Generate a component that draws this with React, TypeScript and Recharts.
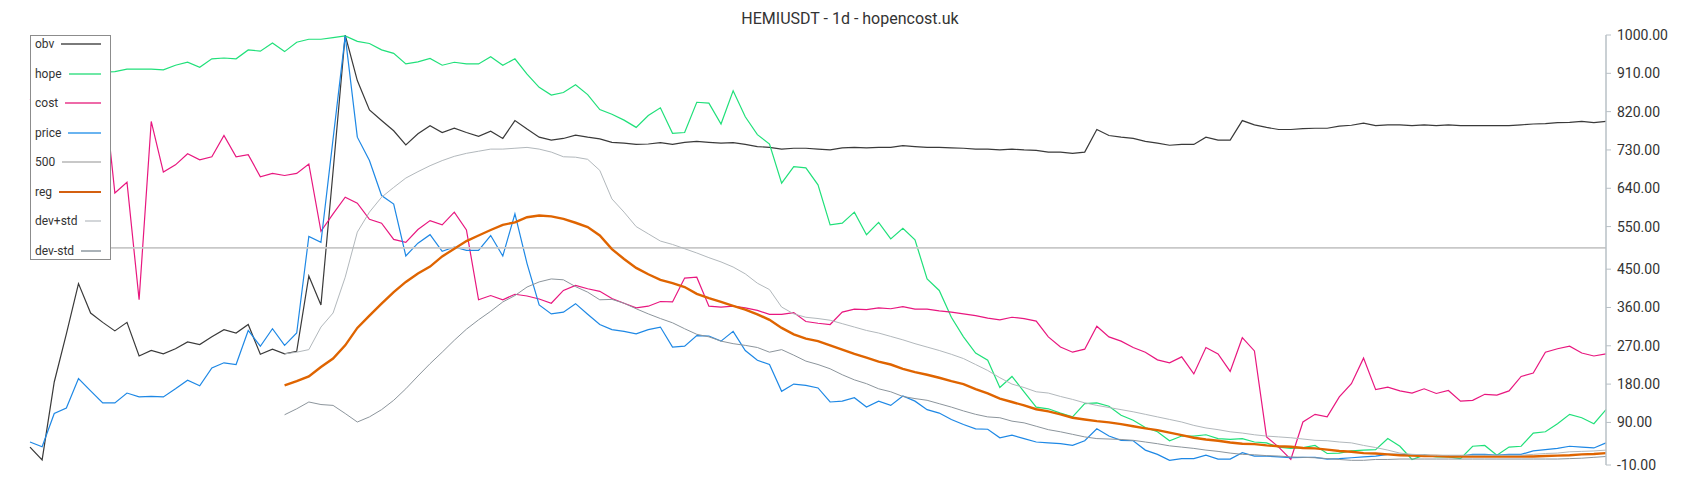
import React from 'react';
import { LineChart, Line, XAxis, YAxis } from 'recharts';

const title = 'HEMIUSDT - 1d - hopencost.uk';

const obv = [
  32, 2, 185, 298, 416, 347, 325, 305, 325, 246, 259, 251, 263, 279, 273, 291,
  308, 300, 320, 250, 262, 251, 257, 434, 366, 680, 1000, 893, 824, 799, 775, 742,
  768, 787, 771, 781, 771, 762, 774, 757, 799, 779, 760, 753, 757, 765, 760, 756,
  748, 746, 743, 744, 747, 743, 748, 750, 748, 746, 747, 743, 738, 736, 732, 734,
  734, 732, 730, 735, 736, 735, 736, 736, 740, 738, 736, 736, 735, 734, 732, 732,
  730, 732, 730, 729, 725, 725, 722, 725, 778, 764, 760, 757, 750, 746, 741, 743,
  743, 760, 753, 753, 799, 789, 783, 778, 778, 780, 781, 781, 786, 788, 793, 787,
  789, 789, 787, 789, 787, 789, 787, 787, 787, 787, 787, 789, 791, 792, 794, 795,
  797, 794, 797,
];

const hope = [
  905, 908, 910, 908, 912, 910, 913, 914, 920, 920, 920, 918, 929, 936, 924, 944,
  946, 944, 965, 962, 981, 961, 983, 990, 990, 994, 998, 985, 980, 965, 957, 932,
  937, 945, 929, 936, 932, 932, 949, 929, 944, 908, 877, 859, 865, 883, 860, 825,
  814, 800, 783, 811, 829, 769, 771, 842, 840, 791, 869, 808, 766, 744, 652, 691,
  688, 648, 554, 558, 584, 531, 560, 521, 546, 519, 427, 400, 337, 291, 253, 236,
  172, 198, 162, 126, 122, 112, 103, 134, 136, 128, 107, 95, 78, 68, 47, 58,
  58, 61, 52, 50, 52, 44, 42, 32, 29, 31, 36, 17, 18, 23, 25, 26,
  52, 34, 3, 13, 9, 9, 5, 34, 36, 13, 32, 34, 65, 68, 87, 109,
  101, 87, 120,
];

const cost = [
  850, 830, 880, 870, 860, 890, 900, 629, 654, 378, 797, 678, 695, 721, 707, 714,
  764, 714, 719, 667, 675, 670, 675, 697, 539, 580, 619, 605, 567, 558, 520, 513,
  543, 564, 554, 584, 542, 378, 388, 378, 391, 387, 380, 370, 400, 412, 404, 398,
  381, 370, 359, 363, 374, 373, 429, 431, 363, 361, 363, 359, 353, 344, 344, 348,
  327, 323, 320, 349, 356, 355, 359, 357, 362, 356, 356, 352, 349, 345, 341, 335,
  331, 337, 334, 328, 291, 267, 255, 262, 316, 291, 281, 266, 255, 237, 230, 244,
  204, 266, 251, 210, 289, 258, 56, 32, 3, 91, 109, 103, 150, 181, 241, 167,
  173, 164, 159, 169, 158, 165, 140, 142, 156, 154, 164, 198, 206, 255, 263, 269,
  253, 246, 251,
];

const price = [
  44, 33, 111, 124, 193, 164, 136, 136, 159, 150, 151, 150, 169, 189, 176, 218,
  230, 226, 306, 269, 310, 271, 300, 527, 513, 756, 998, 760, 705, 623, 603, 481,
  511, 531, 492, 502, 494, 494, 529, 481, 580, 463, 366, 345, 349, 369, 344, 320,
  308, 304, 298, 308, 314, 267, 269, 294, 293, 281, 304, 259, 236, 226, 163, 180,
  177, 171, 138, 140, 148, 126, 140, 130, 152, 140, 120, 112, 97, 85, 75, 74,
  54, 60, 52, 44, 42, 40, 36, 47, 75, 58, 48, 47, 25, 15, 1, 5,
  5, 13, 4, 4, 19, 11, 11, 9, 7, 8, 8, 4, 5, 7, 9, 11,
  15, 15, 13, 13, 11, 11, 11, 15, 15, 13, 15, 15, 23, 26, 29, 34,
  32, 30, 42,
];

const level500 = 500;

const reg = [
  null, null, null, null, null, null, null, null, null, null, null, null, null, null, null, null,
  null, null, null, null, null, 177, 187, 198, 220, 240, 271, 312, 341, 369, 396, 420,
  440, 456, 480, 498, 516, 529, 542, 554, 560, 572, 576, 574, 568, 559, 549, 529,
  497, 474, 453, 438, 425, 417, 408, 392, 382, 373, 364, 355, 344, 331, 312, 297,
  287, 281, 271, 261, 251, 242, 233, 226, 216, 208, 202, 195, 187, 180, 168, 158,
  146, 138, 130, 121, 116, 109, 101, 97, 93, 90, 86, 81, 76, 72, 66, 60,
  54, 50, 47, 43, 40, 39, 36, 34, 33, 30, 29, 26, 23, 21, 18, 17,
  15, 13, 12, 11, 11, 10, 10, 10, 10, 10, 10, 10, 10, 11, 12, 13,
  15, 16, 18,
];

const devPlus = [
  null, null, null, null, null, null, null, null, null, null, null, null, null, null, null, null,
  null, null, null, null, null, 251, 255, 261, 314, 347, 431, 537, 584, 619, 642, 664,
  679, 693, 705, 715, 722, 727, 732, 732, 734, 736, 732, 725, 714, 713, 708, 682,
  615, 584, 550, 533, 516, 508, 498, 488, 477, 467, 455, 439, 417, 402, 361, 345,
  337, 334, 330, 322, 314, 306, 300, 292, 284, 275, 267, 259, 250, 240, 226, 212,
  195, 180, 172, 162, 159, 151, 144, 136, 130, 125, 120, 115, 109, 103, 97, 91,
  83, 77, 73, 68, 65, 61, 58, 56, 54, 51, 48, 47, 44, 42, 36, 31,
  25, 18, 15, 14, 13, 13, 13, 13, 13, 13, 13, 13, 15, 17, 18, 21,
  22, 23, 25,
];

const devMinus = [
  null, null, null, null, null, null, null, null, null, null, null, null, null, null, null, null,
  null, null, null, null, null, 108, 122, 138, 132, 130, 111, 91, 103, 120, 142, 169,
  199, 228, 255, 283, 309, 331, 351, 373, 388, 408, 420, 427, 425, 409, 396, 378,
  379, 370, 357, 345, 334, 324, 310, 297, 291, 281, 275, 271, 266, 255, 261, 248,
  234, 226, 216, 202, 190, 181, 169, 162, 151, 146, 142, 134, 126, 117, 109, 103,
  101, 93, 89, 81, 73, 68, 62, 56, 52, 51, 50, 48, 44, 40, 35, 32,
  29, 25, 22, 18, 15, 14, 12, 11, 9, 8, 7, 5, 3, 1, 1, 3,
  3, 4, 4, 4, 4, 4, 4, 4, 4, 4, 4, 4, 4, 4, 4, 5,
  6, 8, 10,
];

const yTicks = [-10, 90, 180, 270, 360, 450, 550, 640, 730, 820, 910, 1000];

const data = obv.map((v, i) => ({
  day: i + 1,
  obv: v,
  hope: hope[i],
  cost: cost[i],
  price: price[i],
  level: level500,
  reg: reg[i],
  devPlus: devPlus[i],
  devMinus: devMinus[i],
}));

const series = [
  { key: 'obv', name: 'obv', color: '#3a3a3a', legend: '#7a7a7a', width: 1.2 },
  { key: 'hope', name: 'hope', color: '#20e07a', legend: '#6fe8a6', width: 1.2 },
  { key: 'cost', name: 'cost', color: '#e8177f', legend: '#ee6aa8', width: 1.2 },
  { key: 'price', name: 'price', color: '#1e88e5', legend: '#6ab4f0', width: 1.2 },
  { key: 'level', name: '500', color: '#c8c8c8', legend: '#c8c8c8', width: 1.6 },
  { key: 'reg', name: 'reg', color: '#df6400', legend: '#d46010', width: 2.4 },
  { key: 'devPlus', name: 'dev+std', color: '#b2b8bc', legend: '#d3d6d9', width: 1 },
  { key: 'devMinus', name: 'dev-std', color: '#8c959c', legend: '#aab2b8', width: 1 },
];

const W = 1684;
const H = 484;

export default function App() {
  return (
    <div style={{ position: 'relative', width: W, height: H, fontFamily: 'Roboto, sans-serif' }}>
      <div
        style={{
          position: 'absolute',
          top: 1,
          left: 0,
          width: W,
          textAlign: 'center',
          fontSize: 16,
          lineHeight: '20px',
          color: '#333',
        }}
      >
        {title}
      </div>
      <LineChart width={W} height={H} data={data} margin={{ top: 27, right: 26, bottom: 27, left: 22 }}>
        <XAxis dataKey="day" hide />
        <YAxis
          orientation="right"
          domain={[-10, 1000]}
          ticks={yTicks}
          interval={0}
          width={60}
          tickSize={5}
          tickMargin={6}
          allowDataOverflow
          axisLine={{ stroke: '#b8c0c6', strokeWidth: 1.5 }}
          tickLine={{ stroke: '#b8c0c6' }}
          tick={{ fill: '#333', fontSize: 14, fontFamily: 'Roboto, sans-serif' }}
          tickFormatter={(v: number) => v.toFixed(2)}
        />
        {series.map((s) => (
          <Line
            key={s.key}
            type="linear"
            dataKey={s.key}
            name={s.name}
            stroke={s.color}
            strokeWidth={s.width}
            dot={false}
            activeDot={false}
            isAnimationActive={false}
          />
        ))}
      </LineChart>
      <div
        style={{
          position: 'absolute',
          left: 22,
          top: 27,
          width: 81,
          height: 225,
          boxSizing: 'border-box',
          border: '1.5px solid #8c8c8c',
          background: '#fff',
          display: 'flex',
          flexDirection: 'column',
          justifyContent: 'space-between',
          padding: '0 9px 0 4px',
        }}
      >
        {series.map((s) => (
          <div key={s.key} style={{ display: 'flex', alignItems: 'center', height: 16, fontSize: 12, color: '#333' }}>
            <span>{s.name}</span>
            <div style={{ flex: 1, marginLeft: 7, height: 2, background: s.legend }} />
          </div>
        ))}
      </div>
    </div>
  );
}
